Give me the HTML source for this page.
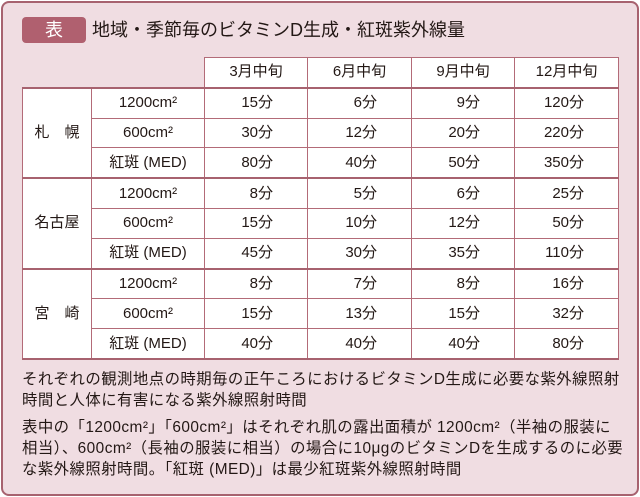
<!DOCTYPE html>
<html><head><meta charset="utf-8"><style>
body{margin:0;width:640px;height:497px;background:#fff;font-family:"Liberation Sans","Noto Sans CJK JP",sans-serif;color:#231815;}
.box{position:absolute;left:1px;top:1px;width:634px;height:491px;border:2px solid #a7626f;border-radius:8px;background:#f0dde2;}
.badge{position:absolute;left:22px;top:17px;width:64px;height:26px;background:#b0606f;border-radius:4px;color:#fff;font-size:18px;text-align:center;line-height:26px;}
.title{position:absolute;left:92px;top:17px;font-size:18px;line-height:26px;}
table{position:absolute;left:22px;top:57px;border-collapse:collapse;font-size:15px;}
td{border:1px solid #b36b78;background:#fff;height:28.8px;padding:0;text-align:center;line-height:18px;}
td.v{text-align:right;padding-right:34px;}
tr.g td{border-top:2px solid #a7626f;}
td.e{background:transparent;border:none;}
.note{position:absolute;left:22px;top:369px;width:620px;font-size:15.4px;line-height:21px;letter-spacing:0.45px;white-space:nowrap;}
.note p{margin:0 0 6px 0;}
</style></head><body>
<div class="box"></div>
<div class="badge">表</div>
<div class="title">地域・季節毎のビタミンD生成・紅斑紫外線量</div>
<table>
<colgroup><col style="width:69px"><col style="width:113px"><col style="width:103px"><col style="width:104px"><col style="width:103px"><col style="width:104px"></colgroup>
<tr><td class="e"></td><td class="e"></td><td>3月中旬</td><td>6月中旬</td><td>9月中旬</td><td>12月中旬</td></tr>
<tr class="g"><td rowspan="3">札　幌</td><td>1200cm²</td><td class="v">15分</td><td class="v">6分</td><td class="v">9分</td><td class="v">120分</td></tr>
<tr><td>600cm²</td><td class="v">30分</td><td class="v">12分</td><td class="v">20分</td><td class="v">220分</td></tr>
<tr><td>紅斑 (MED)</td><td class="v">80分</td><td class="v">40分</td><td class="v">50分</td><td class="v">350分</td></tr>
<tr class="g"><td rowspan="3">名古屋</td><td>1200cm²</td><td class="v">8分</td><td class="v">5分</td><td class="v">6分</td><td class="v">25分</td></tr>
<tr><td>600cm²</td><td class="v">15分</td><td class="v">10分</td><td class="v">12分</td><td class="v">50分</td></tr>
<tr><td>紅斑 (MED)</td><td class="v">45分</td><td class="v">30分</td><td class="v">35分</td><td class="v">110分</td></tr>
<tr class="g"><td rowspan="3">宮　崎</td><td>1200cm²</td><td class="v">8分</td><td class="v">7分</td><td class="v">8分</td><td class="v">16分</td></tr>
<tr><td>600cm²</td><td class="v">15分</td><td class="v">13分</td><td class="v">15分</td><td class="v">32分</td></tr>
<tr style="border-bottom:2px solid #a7626f"><td>紅斑 (MED)</td><td class="v">40分</td><td class="v">40分</td><td class="v">40分</td><td class="v">80分</td></tr>
</table>
<div class="note">
<p>それぞれの観測地点の時期毎の正午ころにおけるビタミンD生成に必要な紫外線照射<br>時間と人体に有害になる紫外線照射時間</p>
<p>表中の「1200cm²」「600cm²」はそれぞれ肌の露出面積が 1200cm²（半袖の服装に<br>相当）、600cm²（長袖の服装に相当）の場合に10μgのビタミンDを生成するのに必要<br>な紫外線照射時間。「紅斑 (MED)」は最少紅斑紫外線照射時間</p>
</div>
</body></html>
